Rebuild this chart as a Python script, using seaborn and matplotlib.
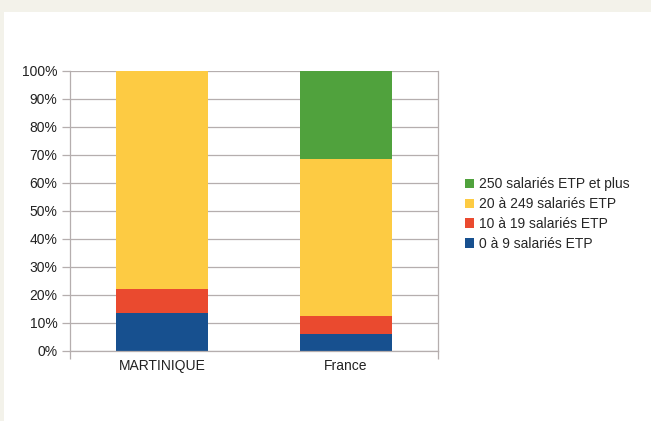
import matplotlib
matplotlib.use("Agg")
import matplotlib.pyplot as plt
import seaborn as sns
import pandas as pd
import numpy as np
from matplotlib.patches import Patch, Rectangle

categories = ["MARTINIQUE", "France"]
series_names = ["0 à 9 salariés ETP", "10 à 19 salariés ETP", "20 à 249 salariés ETP", "250 salariés ETP et plus"]
s_0_9 = [13.4, 6.1]
s_10_19 = [8.7, 6.4]
s_20_249 = [77.9, 56.0]
s_250 = [0.0, 31.5]
colors = ["#17508F", "#EA4A2F", "#FDCB43", "#50A23D"]
ytick_labels = ["0%", "10%", "20%", "30%", "40%", "50%", "60%", "70%", "80%", "90%", "100%"]

sns.set_style("white")
plt.rcParams['font.family'] = ['Liberation Sans', 'DejaVu Sans']

fig = plt.figure(figsize=(6.51, 4.21), dpi=100)
fig.patch.set_facecolor("#F3F2EA")
fig.patches.append(Rectangle((4/651, 0), 1, (421-12)/421, transform=fig.transFigure,
                             facecolor="white", edgecolor="none", zorder=-10))
ax = fig.add_axes([70/651, (421-351)/421, (438-70)/651, (351-71)/421])
ax.set_zorder(1)

series = [s_0_9, s_10_19, s_20_249, s_250]
cum = np.cumsum(np.array(series), axis=0)
for i in range(len(series) - 1, -1, -1):
    df = pd.DataFrame({"cat": categories, "val": cum[i]})
    sns.barplot(data=df, x="cat", y="val", color=colors[i], width=0.503,
                saturation=1, ax=ax, zorder=2, edgecolor="none", linewidth=0)

ax.set_ylim(0, 100)
ax.set_xlim(-0.5, 1.5)
ax.set_yticks(np.arange(0, 101, 10))
ax.set_yticklabels(ytick_labels, fontsize=10, color="#222222")
ax.set_xticklabels(categories, fontsize=10, color="#222222")
ax.set_xlabel("")
ax.set_ylabel("")
ax.grid(axis="y", color="#B5AEAE", linewidth=0.9, zorder=0)
ax.set_axisbelow(True)
for s in ["left", "bottom", "right"]:
    ax.spines[s].set_color("#B5AEAE")
    ax.spines[s].set_linewidth(0.9)
ax.spines["top"].set_visible(False)
ax.tick_params(axis="y", length=6, color="#B5AEAE", width=0.9, pad=3, left=True)
ax.tick_params(axis="x", which="major", length=0, pad=6)
ax.set_xticks([-0.5, 1.5], minor=True)
ax.tick_params(axis="x", which="minor", length=6, color="#B5AEAE", width=0.9, bottom=True)

handles = [Patch(facecolor=colors[i], edgecolor="none") for i in range(3, -1, -1)]
labels = [series_names[i] for i in range(3, -1, -1)]
fig.legend(handles, labels, loc="center left", bbox_to_anchor=(465/651, (421-214)/421),
           frameon=False, fontsize=10, handlelength=0.65, handleheight=0.65,
           handletextpad=0.35, labelspacing=0.42, borderpad=0, borderaxespad=0)

fig.savefig("out.png", dpi=100)
